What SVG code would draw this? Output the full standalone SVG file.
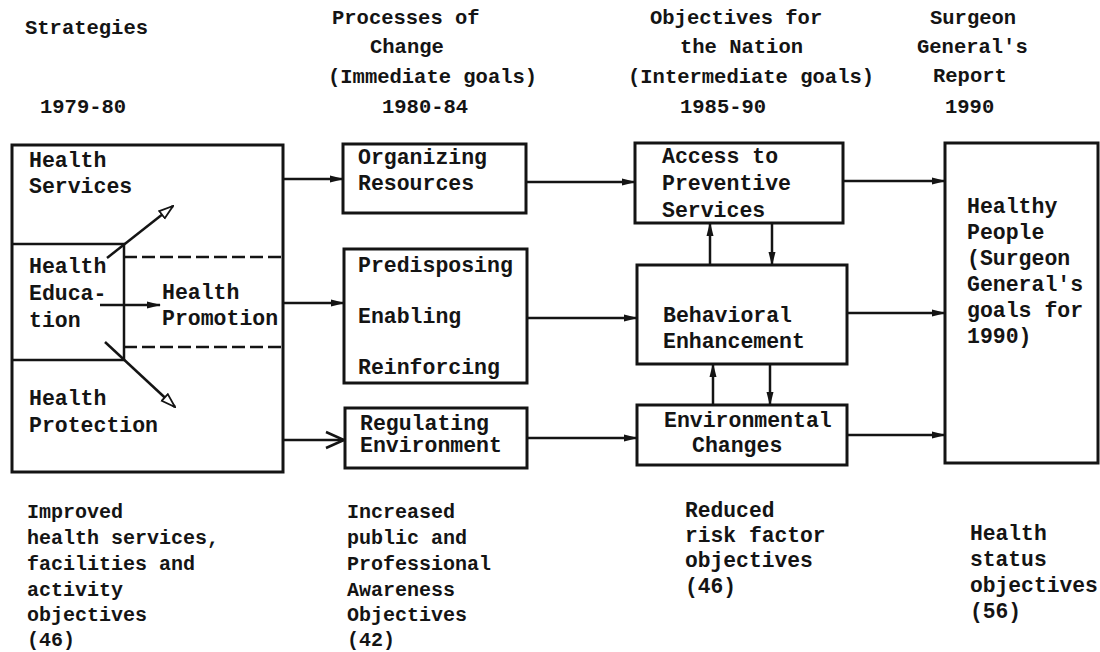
<svg xmlns="http://www.w3.org/2000/svg" width="1100" height="652" viewBox="0 0 1100 652">
<style>
text{font-family:"Liberation Mono","Courier New",monospace;font-weight:bold;fill:#141414}
.h{font-size:20.5px}
.b{font-size:21.5px}
.f{font-size:20px}
.g{font-size:21.3px}
.box{fill:none;stroke:#141414;stroke-width:3}
.ln{fill:none;stroke:#141414;stroke-width:2.5}
.dash{fill:none;stroke:#141414;stroke-width:2.5;stroke-dasharray:13 5}
.c{fill:none;stroke:#141414;stroke-width:2.5}
</style>
<defs>
<marker id="af" viewBox="0 0 14 10" refX="13" refY="5" markerWidth="14" markerHeight="10" markerUnits="userSpaceOnUse" orient="auto">
<path d="M0,1.5 L14,5 L0,8.5 z" fill="#141414"/>
</marker>
<marker id="ah" viewBox="-1 -1 16 12" refX="14" refY="5" markerWidth="16" markerHeight="12" markerUnits="userSpaceOnUse" orient="auto">
<path d="M0,0.5 L14,5 L0,9.5 z" fill="#fff" stroke="#141414" stroke-width="1.8"/>
</marker>
<marker id="av" viewBox="-2 -2 22 20" refX="18" refY="8" markerWidth="22" markerHeight="20" markerUnits="userSpaceOnUse" orient="auto">
<path d="M0,0 L18,8 L0,16" fill="none" stroke="#141414" stroke-width="2.5"/>
</marker>
</defs>

<g id="headers">
<text class="h" x="25" y="34">Strategies</text>
<text class="h" x="40" y="113">1979-80</text>
<text class="h" x="332" y="24">Processes of</text>
<text class="h" x="370" y="53">Change</text>
<text class="h" x="328" y="83">(Immediate goals)</text>
<text class="h" x="382" y="113">1980-84</text>
<text class="h" x="650" y="24">Objectives for</text>
<text class="h" x="680" y="53">the Nation</text>
<text class="h" x="628" y="83">(Intermediate goals)</text>
<text class="h" x="680" y="113">1985-90</text>
<text class="h" x="930" y="24">Surgeon</text>
<text class="h" x="917" y="53">General's</text>
<text class="h" x="933" y="82">Report</text>
<text class="h" x="945" y="113">1990</text>
</g>

<g id="strategies">
<rect class="box" x="12" y="145" width="271" height="327"/>
<path class="ln" d="M12,244 H124 V360 H12"/>
<path class="dash" d="M124,257 H283 M124,347 H283"/>
<text class="b" x="29" y="167">Health</text>
<text class="b" x="29" y="193">Services</text>
<text class="b" x="29" y="273">Health</text>
<text class="b" x="29" y="300">Educa-</text>
<text class="b" x="29" y="327">tion</text>
<text class="b" x="162" y="299">Health</text>
<text class="b" x="162" y="325">Promotion</text>
<text class="b" x="29" y="405">Health</text>
<text class="b" x="29" y="432">Protection</text>
</g>

<g id="organizing">
<rect class="box" x="343" y="144" width="183" height="69"/>
<text class="b" x="358" y="164">Organizing</text>
<text class="b" x="358" y="190">Resources</text>
</g>

<g id="predisposing">
<rect class="box" x="344" y="249" width="183" height="134"/>
<text class="b" x="358" y="272">Predisposing</text>
<text class="b" x="358" y="323">Enabling</text>
<text class="b" x="358" y="374">Reinforcing</text>
</g>

<g id="regulating">
<rect class="box" x="345" y="408" width="182" height="60"/>
<text class="b" x="360" y="430">Regulating</text>
<text class="b" x="360" y="452">Environment</text>
</g>

<g id="access">
<rect class="box" x="635" y="143" width="208" height="80"/>
<text class="b" x="662" y="163">Access to</text>
<text class="b" x="662" y="190">Preventive</text>
<text class="b" x="662" y="217">Services</text>
</g>

<g id="behavioral">
<rect class="box" x="637" y="265" width="210" height="99"/>
<text class="b" x="663" y="322">Behavioral</text>
<text class="b" x="663" y="348">Enhancement</text>
</g>

<g id="environmental">
<rect class="box" x="637" y="405" width="210" height="60"/>
<text class="b" x="664" y="427">Environmental</text>
<text class="b" x="692" y="452">Changes</text>
</g>

<g id="healthy">
<rect class="box" x="945" y="143" width="153" height="320"/>
<text class="b" x="967" y="213">Healthy</text>
<text class="b" x="967" y="239">People</text>
<text class="b" x="967" y="265">(Surgeon</text>
<text class="b" x="967" y="291">General's</text>
<text class="b" x="967" y="317">goals for</text>
<text class="b" x="967" y="343">1990)</text>
</g>

<g id="footnotes">
<text class="f" x="27" y="518">Improved</text>
<text class="f" x="27" y="544">health services,</text>
<text class="f" x="27" y="570">facilities and</text>
<text class="f" x="27" y="596">activity</text>
<text class="f" x="27" y="621">objectives</text>
<text class="f" x="27" y="646">(46)</text>
<text class="f" x="347" y="518">Increased</text>
<text class="f" x="347" y="544">public and</text>
<text class="f" x="347" y="570">Professional</text>
<text class="f" x="347" y="596">Awareness</text>
<text class="f" x="347" y="621">Objectives</text>
<text class="f" x="347" y="646">(42)</text>
<text class="g" x="685" y="517">Reduced</text>
<text class="g" x="685" y="542">risk factor</text>
<text class="g" x="685" y="567">objectives</text>
<text class="g" x="685" y="593">(46)</text>
<text class="g" x="970" y="540">Health</text>
<text class="g" x="970" y="566">status</text>
<text class="g" x="970" y="592">objectives</text>
<text class="g" x="970" y="618">(56)</text>
</g>

<g id="connectors">
<path class="c" d="M107,258 L173,206" marker-end="url(#ah)"/>
<path class="c" d="M100,305 L160,305" marker-end="url(#af)"/>
<path class="c" d="M105,342 L175,407" marker-end="url(#ah)"/>
<path class="c" d="M283,179 L343,179" marker-end="url(#af)"/>
<path class="c" d="M283,303 L344,303" marker-end="url(#af)"/>
<path class="c" d="M283,440 L344,440" marker-end="url(#av)"/>
<path class="c" d="M526,182 L635,182" marker-end="url(#af)"/>
<path class="c" d="M527,318 L637,318" marker-end="url(#af)"/>
<path class="c" d="M527,438 L637,438" marker-end="url(#af)"/>
<path class="c" d="M843,181 L945,181" marker-end="url(#af)"/>
<path class="c" d="M847,313 L945,313" marker-end="url(#af)"/>
<path class="c" d="M847,435 L945,435" marker-end="url(#af)"/>
<path class="c" d="M710,265 L710,223" marker-end="url(#af)"/>
<path class="c" d="M772,223 L772,265" marker-end="url(#af)"/>
<path class="c" d="M713,405 L713,364" marker-end="url(#af)"/>
<path class="c" d="M770,364 L770,405" marker-end="url(#af)"/>
</g>
</svg>
